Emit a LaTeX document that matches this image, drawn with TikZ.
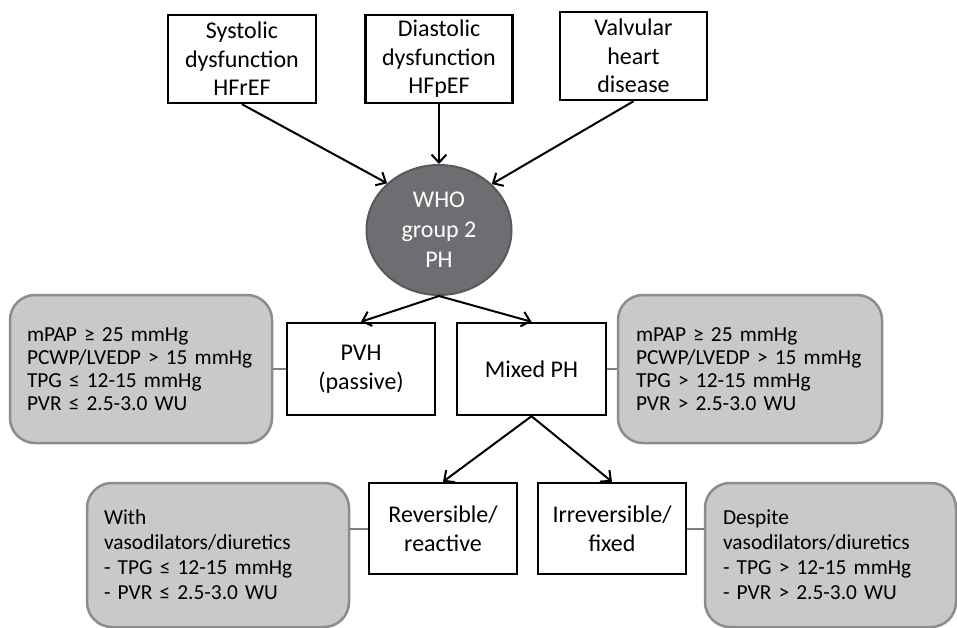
\documentclass[tikz,border=0pt]{standalone}
\usepackage{fontspec}
\setmainfont{Carlito}
\usetikzlibrary{arrows.meta,shapes.geometric}
\definecolor{greyfill}{HTML}{C8C9CB}
\definecolor{greyedge}{HTML}{8C8C8C}
\definecolor{darkfill}{HTML}{6D6E71}
\definecolor{darkedge}{HTML}{58595B}
\definecolor{linkgrey}{HTML}{7F7F7F}
\tikzset{
  whitebox/.style={draw=black, line width=2.5pt, fill=white, inner sep=0pt, align=center,
    font=\fontsize{24}{28.5}\selectfont},
  greybox/.style={draw=greyedge, line width=2.5pt, fill=greyfill, rounded corners=25pt,
    inner sep=0pt, align=left, text width=228pt, minimum width=262pt,
    font=\fontsize{21.4}{23}\selectfont},
  arr/.style={line width=2pt, -{Straight Barb[length=8pt,width=15pt]}},
  link/.style={draw=linkgrey, line width=2pt},
}
\begin{document}
\begin{tikzpicture}[x=1pt, y=-1pt]
\clip (0,0) rectangle (957,628);
\fill[white] (0,0) rectangle (957,628);

% top cause boxes
\node[whitebox, minimum width=148pt, minimum height=88pt] (sys) at (242,59) {Systolic\\dysfunction\\HFrEF};
\node[whitebox, minimum width=147pt, minimum height=88pt] (dia) at (439,59) {Diastolic\\dysfunction\\HFpEF};
\node[whitebox, minimum width=147pt, minimum height=88pt] (val) at (633.5,56) {Valvular\\heart\\disease};

% central ellipse
\node[ellipse, draw=darkedge, fill=darkfill, line width=2pt, minimum width=145pt, minimum height=130pt,
  inner sep=0pt, text=white, align=center, font=\fontsize{24}{30}\selectfont] (who) at (439,230) {WHO\\group 2\\PH};

% second level
\node[whitebox, minimum width=148pt, minimum height=92pt] (pvh) at (361,369) {PVH\\(passive)};
\node[whitebox, minimum width=149pt, minimum height=92pt] (mix) at (531.5,369) {Mixed PH};

% third level
\node[whitebox, minimum width=148pt, minimum height=91pt] (rev) at (443,528.5) {Reversible/\\reactive};
\node[whitebox, minimum width=148pt, minimum height=91pt] (irr) at (612,528.5) {Irreversible/\\fixed};

% grey info boxes
\node[greybox, minimum height=148pt] (gl) at (141,369)
  {mPAP ≥ 25 mmHg\\PCWP/LVEDP > 15 mmHg\\TPG ≤ 12-15 mmHg\\PVR ≤ 2.5-3.0 WU};
\node[greybox, minimum width=264pt, text width=228pt, minimum height=148pt] (gr) at (750,369)
  {mPAP ≥ 25 mmHg\\PCWP/LVEDP > 15 mmHg\\TPG > 12-15 mmHg\\PVR > 2.5-3.0 WU};
\node[greybox, minimum height=144pt, font=\fontsize{21.4}{25}\selectfont] (gbl) at (218,555)
  {With\\vasodilators/diuretics\\- TPG ≤ 12-15 mmHg\\- PVR ≤ 2.5-3.0 WU};
\node[greybox, minimum width=251pt, text width=215pt, minimum height=144pt, font=\fontsize{21.4}{25}\selectfont] (gbr) at (830.5,555)
  {Despite\\vasodilators/diuretics\\- TPG > 12-15 mmHg\\- PVR > 2.5-3.0 WU};

% arrows
\draw[arr] (sys.south) -- (who.138);
\draw[arr] (dia.south) -- (who.north);
\draw[arr] (val.south) -- (who.41);
\draw[arr] (who.south) -- (pvh.north);
\draw[arr] (who.south) -- (mix.north);
\draw[arr] (mix.south) -- (rev.north);
\draw[arr] (mix.south) -- (irr.north);

% grey links
\draw[link] (gl.east) -- (pvh.west);
\draw[link] (gr.west) -- (mix.east);
\draw[link] (rev.west) -- (rev.west -| gbl.east);
\draw[link] (irr.east) -- (irr.east -| gbr.west);
\end{tikzpicture}
\end{document}
